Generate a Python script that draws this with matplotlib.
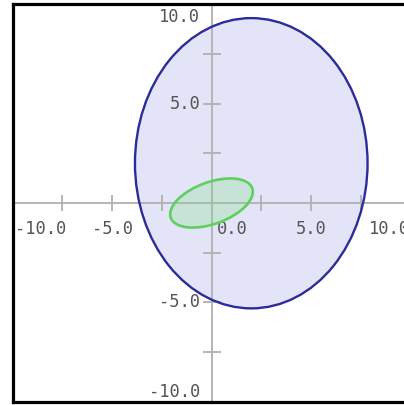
import matplotlib
matplotlib.use("Agg")
import matplotlib.pyplot as plt
from matplotlib.patches import Ellipse
from matplotlib.transforms import offset_copy

# Ellipses: centre, semi-axes and rotation (degrees)
outer_center = (2.0, 2.0)
outer_semi_axes = (5.85, 7.3)
outer_angle = 0.0

inner_center = (0.0, 0.0)
inner_semi_axes = (2.18, 1.05)
inner_angle = 20.0

# Axis ticks and labels
x_ticks = [-10, -7.5, -5, -2.5, 2.5, 5, 7.5, 10]
y_ticks = [-10, -7.5, -5, -2.5, 2.5, 5, 7.5, 10]
x_labels = [-10.0, -5.0, 0.0, 5.0, 10.0]
y_labels = [-10.0, -5.0, 5.0, 10.0]
limits = (-10, 10)

W, H, DPI = 404, 405, 100
fig = plt.figure(figsize=(W / DPI, H / DPI), dpi=DPI)
fig.patch.set_facecolor("white")

ax = fig.add_axes([12.7 / W, 3.2 / H, 397.6 / W, 397.6 / H])
ax.set_xlim(*limits)
ax.set_ylim(*limits)
ax.set_xticks([])
ax.set_yticks([])
for s in ax.spines.values():
    s.set_linewidth(2.3)
    s.set_color("black")
    s.set_zorder(10)

axis_grey = "#b0b0b0"
ax.axhline(0, color=axis_grey, lw=1.3, zorder=2)
ax.axvline(0, color=axis_grey, lw=1.3, zorder=2)
ax.plot(x_ticks, [0] * len(x_ticks), ls="none", marker="|", ms=12,
        mew=1.3, color=axis_grey, zorder=2, clip_on=False)
ax.plot([0] * len(y_ticks), y_ticks, ls="none", marker="_", ms=13,
        mew=1.3, color=axis_grey, zorder=2, clip_on=False)

# Outer ellipse
ax.add_patch(Ellipse(outer_center, 2 * outer_semi_axes[0], 2 * outer_semi_axes[1],
                     angle=outer_angle, facecolor="#e4e4f9", edgecolor="none", zorder=1))
ax.add_patch(Ellipse(outer_center, 2 * outer_semi_axes[0], 2 * outer_semi_axes[1],
                     angle=outer_angle, facecolor="none", edgecolor="#2c2c98",
                     lw=1.7, zorder=3))

# Inner ellipse
ax.add_patch(Ellipse(inner_center, 2 * inner_semi_axes[0], 2 * inner_semi_axes[1],
                     angle=inner_angle, facecolor=(0.45, 0.88, 0.45, 0.25),
                     edgecolor="#5fd05f", lw=1.9, zorder=5))

font = dict(family="DejaVu Sans Mono", fontsize=12.3, color="#555555", zorder=4)

def fmt(v):
    return f"{v:.1f}"

# x-axis labels
for v in x_labels:
    if v == limits[0]:
        t = offset_copy(ax.transData, fig=fig, x=1.5, y=-19, units="points")
        ax.text(v, 0, fmt(v), transform=t, ha="left", va="center", **font)
    elif v == limits[1]:
        t = offset_copy(ax.transData, fig=fig, x=0, y=-19, units="points")
        ax.text(v, 0, fmt(v), transform=t, ha="right", va="center", clip_on=False, **font)
    elif v == 0:
        t = offset_copy(ax.transData, fig=fig, x=4, y=-19, units="points")
        ax.text(v, 0, fmt(v), transform=t, ha="left", va="center", **font)
    else:
        t = offset_copy(ax.transData, fig=fig, x=0, y=-19, units="points")
        ax.text(v, 0, fmt(v), transform=t, ha="center", va="center", **font)

# y-axis labels
for v in y_labels:
    if v == limits[1]:
        t = offset_copy(ax.transData, fig=fig, x=-8, y=-9, units="points")
        ax.text(0, v, fmt(v), transform=t, ha="right", va="center", **font)
    elif v == limits[0]:
        t = offset_copy(ax.transData, fig=fig, x=-8, y=7, units="points")
        ax.text(0, v, fmt(v), transform=t, ha="right", va="center", **font)
    else:
        t = offset_copy(ax.transData, fig=fig, x=-8, y=0, units="points")
        ax.text(0, v, fmt(v), transform=t, ha="right", va="center", **font)

fig.savefig("out.png", dpi=DPI)
